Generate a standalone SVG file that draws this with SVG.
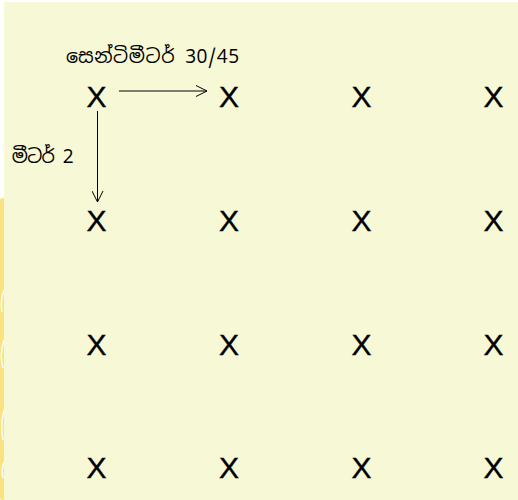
<svg xmlns="http://www.w3.org/2000/svg" width="518" height="500" viewBox="0 0 518 500">
  <style>
    .mark { font-family: "Liberation Sans", Arial, sans-serif; font-size: 30px; fill: #000; stroke: #000; stroke-width: 0.4; text-anchor: middle; }
    .label { font-family: "Noto Sans Sinhala", "Iskoola Pota", "Noto Sans", sans-serif; font-size: 19px; fill: #000; }
    .conn { stroke: #000; stroke-width: 1; fill: none; }
  </style>
  <defs>
    <marker id="head" viewBox="0 0 12 12" refX="11" refY="6" markerWidth="12" markerHeight="12" markerUnits="userSpaceOnUse" orient="auto">
      <path d="M0,0.5 L11,6 L0,11.5" fill="none" stroke="#000" stroke-width="1"/>
    </marker>
  </defs>

  <!-- page background -->
  <rect x="0" y="0" width="518" height="500" fill="#ffffff"/>
  <rect x="0" y="198" width="5" height="302" rx="2" fill="#f9e27f"/>
  <path d="M4,290 Q0,300 2,312 M4,340 Q-1,355 3,368 M4,410 Q0,425 3,440 M4,462 Q1,470 3,478" stroke="#ffffff" stroke-width="1.5" fill="none"/>
  <rect x="4" y="2" width="514" height="498" fill="#f6f8d6"/>

  <!-- grid of planting points -->
  <g id="row1">
    <text class="mark" x="96.5" y="107">X</text>
    <text class="mark" x="229" y="107">X</text>
    <text class="mark" x="361.5" y="107">X</text>
    <text class="mark" x="493.5" y="107">X</text>
  </g>
  <g id="row2">
    <text class="mark" x="96.5" y="231">X</text>
    <text class="mark" x="229" y="231">X</text>
    <text class="mark" x="361.5" y="231">X</text>
    <text class="mark" x="493.5" y="231">X</text>
  </g>
  <g id="row3">
    <text class="mark" x="96.5" y="355">X</text>
    <text class="mark" x="229" y="355">X</text>
    <text class="mark" x="361.5" y="355">X</text>
    <text class="mark" x="493.5" y="355">X</text>
  </g>
  <g id="row4">
    <text class="mark" x="96.5" y="478">X</text>
    <text class="mark" x="229" y="478">X</text>
    <text class="mark" x="361.5" y="478">X</text>
    <text class="mark" x="493.5" y="478">X</text>
  </g>

  <!-- spacing labels -->
  <g id="label-plant-spacing">
    <text class="label" x="66" y="63" textLength="173" lengthAdjust="spacing">සෙන්ටිමීටර් 30/45</text>
  </g>
  <g id="label-row-spacing">
    <text class="label" x="11" y="163" textLength="62" lengthAdjust="spacing">මීටර් 2</text>
  </g>

  <!-- spacing arrows -->
  <g id="connectors">
    <line class="conn" x1="119" y1="91" x2="207" y2="91" marker-end="url(#head)"/>
    <line class="conn" x1="97.5" y1="111" x2="97.5" y2="202" marker-end="url(#head)"/>
  </g>
</svg>
